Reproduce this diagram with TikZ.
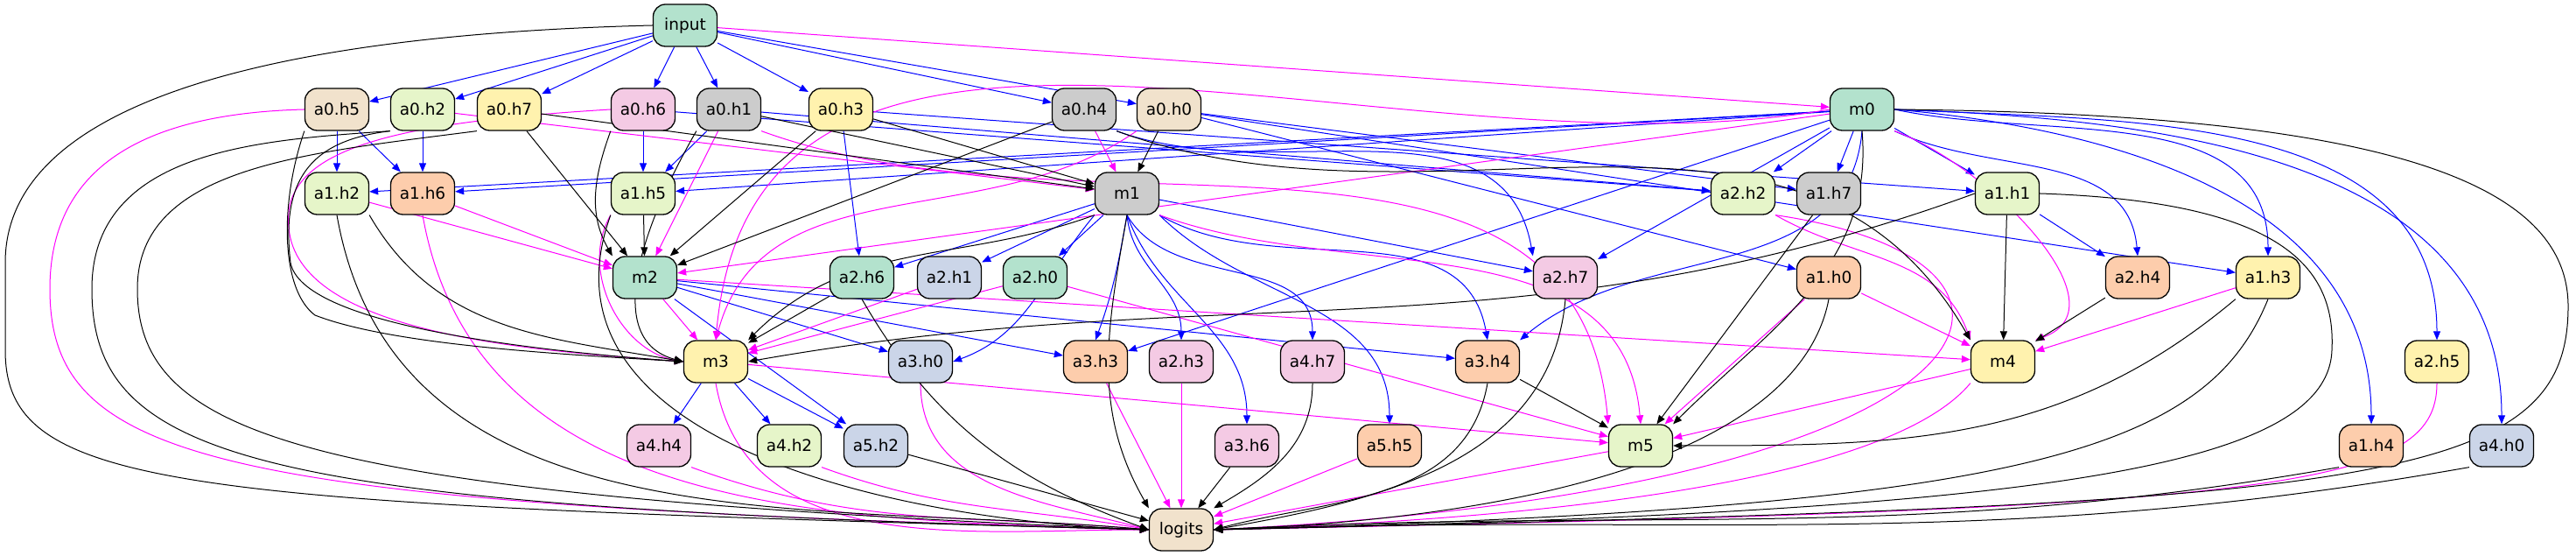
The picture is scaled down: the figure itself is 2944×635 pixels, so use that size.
\documentclass[tikz,border=0pt]{standalone}
\usepackage{fontspec}
\setmainfont{DejaVu Sans}
\usetikzlibrary{arrows.meta,backgrounds}
\definecolor{cgreen}{HTML}{B3E2CD}
\definecolor{corange}{HTML}{FDCDAC}
\definecolor{cblue}{HTML}{CBD5E8}
\definecolor{cpink}{HTML}{F4CAE4}
\definecolor{clime}{HTML}{E6F5C9}
\definecolor{cyellow}{HTML}{FFF2AE}
\definecolor{cbeige}{HTML}{F1E2CC}
\definecolor{cgrey}{HTML}{CCCCCC}
\definecolor{cmag}{RGB}{255,0,255}
\definecolor{cblu}{RGB}{0,0,255}
\begin{document}
\begin{tikzpicture}[x=0.2pt,y=-0.2pt,>={Triangle[length=2pt,width=1.6pt]}]
\tikzstyle{box} = [draw, line width=0.26pt, rounded corners=2.8pt, rectangle, minimum width=14.6pt, minimum height=9.6pt, inner sep=0pt, font=\fontsize{3.7}{4.4}\selectfont]
\tikzstyle{bedge} = [->, draw=cblu, line width=0.2pt]
\tikzstyle{medge} = [->, draw=cmag, line width=0.2pt]
\tikzstyle{kedge} = [->, draw=black, line width=0.2pt]
\useasboundingbox (0,0) rectangle (2944,635);
%
\node[box,fill=cgreen] (input) at (783,29) {input};
%
\node[box,fill=cbeige] (a0h5) at (385,125) {a0.h5};
\node[box,fill=clime] (a0h2) at (483,125) {a0.h2};
\node[box,fill=cyellow] (a0h7) at (582,125) {a0.h7};
\node[box,fill=cpink] (a0h6) at (735,125) {a0.h6};
\node[box,fill=cgrey] (a0h1) at (833,125) {a0.h1};
\node[box,fill=cyellow] (a0h3) at (961,125) {a0.h3};
\node[box,fill=cgrey] (a0h4) at (1239,125) {a0.h4};
\node[box,fill=cbeige] (a0h0) at (1336,125) {a0.h0};
\node[box,fill=cgreen] (m0) at (2128,125) {m0};
%
\node[box,fill=clime] (a1h2) at (385,221) {a1.h2};
\node[box,fill=corange] (a1h6) at (483,221) {a1.h6};
\node[box,fill=clime] (a1h5) at (735,221) {a1.h5};
\node[box,fill=cgrey] (m1) at (1288,221) {m1};
\node[box,fill=clime] (a2h2) at (1992,221) {a2.h2};
\node[box,fill=cgrey] (a1h7) at (2090,221) {a1.h7};
\node[box,fill=clime] (a1h1) at (2294,221) {a1.h1};
%
\node[box,fill=cgreen] (m2) at (737,317) {m2};
\node[box,fill=cgreen] (a2h6) at (985,317) {a2.h6};
\node[box,fill=cblue] (a2h1) at (1085,317) {a2.h1};
\node[box,fill=cgreen] (a2h0) at (1183,317) {a2.h0};
\node[box,fill=cpink] (a2h7) at (1789,317) {a2.h7};
\node[box,fill=corange] (a1h0) at (2090,317) {a1.h0};
\node[box,fill=corange] (a2h4) at (2443,317) {a2.h4};
\node[box,fill=cyellow] (a1h3) at (2592,317) {a1.h3};
%
\node[box,fill=cyellow] (m3) at (818,413) {m3};
\node[box,fill=cblue] (a3h0) at (1052,413) {a3.h0};
\node[box,fill=corange] (a3h3) at (1252,413) {a3.h3};
\node[box,fill=cpink] (a2h3) at (1350,413) {a2.h3};
\node[box,fill=cpink] (a4h7) at (1500,413) {a4.h7};
\node[box,fill=corange] (a3h4) at (1700,413) {a3.h4};
\node[box,fill=cyellow] (m4) at (2289,413) {m4};
\node[box,fill=cyellow] (a2h5) at (2785,413) {a2.h5};
%
\node[box,fill=cpink] (a4h4) at (753,509) {a4.h4};
\node[box,fill=clime] (a4h2) at (902,509) {a4.h2};
\node[box,fill=cblue] (a5h2) at (1001,509) {a5.h2};
\node[box,fill=cpink] (a3h6) at (1425,509) {a3.h6};
\node[box,fill=corange] (a5h5) at (1588,509) {a5.h5};
\node[box,fill=clime] (m5) at (1875,509) {m5};
\node[box,fill=corange] (a1h4) at (2710,509) {a1.h4};
\node[box,fill=cblue] (a4h0) at (2859,509) {a4.h0};
%
\node[box,fill=cbeige] (logits) at (1350,605) {logits};
%
\begin{pgfonlayer}{background}
% blue edges into the heads
\foreach \t in {a0h5,a0h2,a0h7,a0h6,a0h1,a0h3,a0h4,a0h0} \draw[bedge] (input) -- (\t);
\foreach \s/\t in {a0h5/a1h2,a0h5/a1h6,a0h2/a1h6,a0h6/a1h5,a0h1/a1h5,a0h3/a2h6,
  m0/a1h2,m0/a1h6,m0/a1h5,m0/a2h2,m0/a1h7,m0/a1h1,m0/a2h7,m0/a3h3,
  a0h6/a2h2,a0h1/a2h2,a0h0/a1h7,a0h3/a1h1,a0h0/a1h0,a0h0/a1h3,a1h1/a2h4,
  m1/a2h6,m1/a2h1,m1/a2h0,m1/a2h7,m2/a3h0,m2/a3h3,m2/a3h4,m2/a5h2,
  m3/a4h4,m3/a4h2,m3/a5h2}
  \draw[bedge] (\s) -- (\t);
\draw[bedge] (a0h4.south east) to[out=-20,in=100] (a2h7.north west);
\draw[bedge] (m0.south) to[out=265,in=40] (a3h4.north east);
\draw[bedge] (m0.south east) to[out=-25,in=95] (a2h4.north);
\draw[bedge] (m0.east) to[out=-12,in=90] (a1h3.north);
\draw[bedge] (m0.east) to[out=-5,in=90] (a1h4.north);
\draw[bedge] (m0.east) to[out=-3,in=90] (a2h5.north);
\draw[bedge] (m0.east) to[out=-2,in=90] (a4h0.north);
\draw[bedge] (m1.south west) to[out=230,in=20] (a3h0.east);
\draw[bedge] (m1.south) to[out=-100,in=70] (a3h3.north);
\draw[bedge] (m1.south) to[out=-85,in=90] (a2h3.north);
\draw[bedge] (m1.south) to[out=-60,in=90] (a4h7.north);
\draw[bedge] (m1.south east) to[out=-30,in=100] (a3h4.north);
\draw[bedge] (m1.south) to[out=-70,in=90] (a3h6.north);
\draw[bedge] (m1.south east) to[out=-45,in=90] (a5h5.north);
% magenta edges
\draw[medge] (input) -- (m0);
\foreach \s/\t in {a0h2/m1,a0h1/m2,a0h4/m1,a1h2/m2,a1h6/m2,m0/m2,m2/m3,m2/m4,
  a2h1/m3,a2h0/m3,a2h0/m5,m3/m5,a1h0/m4,a1h0/m5,a1h3/m4,m4/m5,
  a3h3/logits,a2h3/logits,a5h5/logits,m5/logits}
  \draw[medge] (\s) -- (\t);
\draw[medge] (a0h5.west) .. controls (150,130) and (57,200) .. (57,330)
  .. controls (57,530) and (250,575) .. (logits.west);
\draw[medge] (a0h6.west) .. controls (450,140) and (320,170) .. (330,260)
  .. controls (340,380) and (600,400) .. (m3.west);
\draw[medge] (a0h1.south east) to[out=-20,in=95] (m5.north west);
\draw[medge] (a0h0.south west) to[out=215,in=75] (m3.north);
\draw[medge] (m0.west) to[out=190,in=85] (m3.north);
\draw[medge] (m0.south east) to[out=-20,in=20] (m4.north east);
\draw[medge] (a1h6.south) to[out=-80,in=178] (logits.west);
\draw[medge] (a1h5.south west) to[out=240,in=170] (m3.west);
\draw[medge] (m1.south east) to[out=-20,in=95] (m5.north);
\draw[medge] (a2h2.south east) to[out=-30,in=110] (m4.north west);
\draw[medge] (a2h2.south east) .. controls (2400,300) and (2300,560) .. (logits.east);
\draw[medge] (m3.south) to[out=-80,in=180] (logits.west);
\draw[medge] (a3h0.south) to[out=-90,in=165] (logits.west);
\draw[medge] (m4.south west) .. controls (2150,560) and (1700,595) .. (logits.east);
\draw[medge] (a2h5.south) .. controls (2785,560) and (2600,580) .. (logits.east);
\draw[medge] (a4h4.south east) to[out=-20,in=175] (logits.west);
\draw[medge] (a4h2.south east) to[out=-20,in=170] (logits.west);
% black edges
\foreach \s/\t in {a0h7/m1,a0h7/m2,a0h1/m1,a0h3/m2,a0h3/m1,a0h4/m2,a0h0/m1,
  a1h5/m2,a1h7/m5,a1h1/m4,a2h4/m4,a2h6/m3,a3h4/m5,a3h6/logits,a5h2/logits}
  \draw[kedge] (\s) -- (\t);
\draw[kedge] (input.west) .. controls (300,40) and (6,120) .. (6,300)
  -- (6,400) .. controls (6,560) and (200,575) .. (logits.west);
\draw[kedge] (a0h2.south west) .. controls (300,160) and (105,170) .. (105,330)
  .. controls (105,530) and (300,578) .. (logits.west);
\draw[kedge] (a0h7.south west) .. controls (350,175) and (157,190) .. (157,330)
  .. controls (157,500) and (350,565) .. (logits.west);
\draw[kedge] (a0h5.south west) .. controls (320,230) and (320,330) .. (360,360)
  .. controls (450,395) and (650,405) .. (m3.west);
\draw[kedge] (a0h2.south west) .. controls (360,160) and (320,200) .. (332,300)
  .. controls (345,370) and (600,400) .. (m3.west);
\draw[kedge] (a0h6.south west) to[out=250,in=120] (m2.north west);
\draw[kedge] (a0h1.south west) to[out=240,in=165] (m3.west);
\draw[kedge] (a0h4.south east) to[out=-20,in=120] (m4.north west);
\draw[kedge] (a1h2.south east) to[out=-60,in=170] (m3.west);
\draw[kedge] (a1h2.south) to[out=-80,in=175] (logits.west);
\draw[kedge] (a1h5.south west) to[out=250,in=178] (logits.west);
\draw[kedge] (m1.south west) to[out=200,in=45] (m3.north east);
\draw[kedge] (m1.south) to[out=-100,in=120] (logits.north west);
\draw[kedge] (a1h1.west) to[out=200,in=10] (m3.east);
\draw[kedge] (a1h1.east) .. controls (2600,230) and (2670,300) .. (2665,400)
  .. controls (2660,540) and (2300,585) .. (logits.east);
\draw[kedge] (a1h3.south west) to[out=220,in=0] (m5.east);
\draw[kedge] (a1h3.south) .. controls (2520,520) and (2300,580) .. (logits.east);
\draw[kedge] (a1h0.south) .. controls (2060,500) and (1800,590) .. (logits.east);
\draw[kedge] (m0.south) to[out=275,in=45] (m5.north east);
\draw[kedge] (m0.east) .. controls (2700,130) and (2935,200) .. (2935,350)
  .. controls (2935,560) and (2700,575) .. (logits.east);
\draw[kedge] (a2h6.south) to[out=-60,in=160] (logits.west);
\draw[kedge] (a2h7.south) to[out=-95,in=10] (logits.east);
\draw[kedge] (a4h7.south) to[out=-90,in=30] (logits.north east);
\draw[kedge] (a3h4.south) to[out=-100,in=15] (logits.east);
\draw[kedge] (a1h4.south west) to[out=190,in=3] (logits.east);
\draw[kedge] (a4h0.south west) to[out=190,in=2] (logits.east);
\end{pgfonlayer}
\end{tikzpicture}
\end{document}
